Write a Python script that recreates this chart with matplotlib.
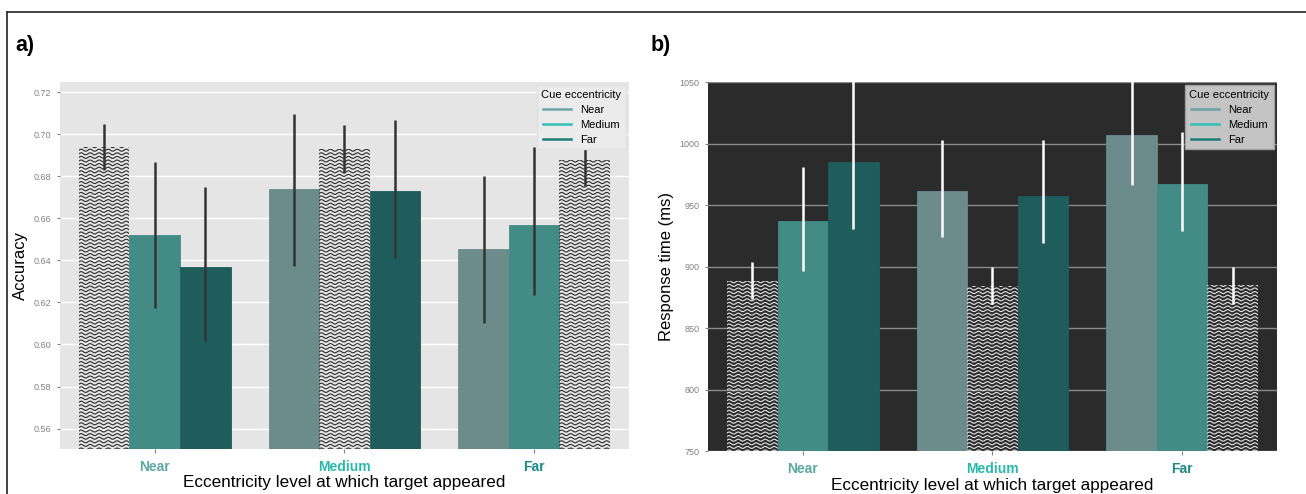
import numpy as np
import matplotlib
matplotlib.use("Agg")
import matplotlib.pyplot as plt
from matplotlib.lines import Line2D

plt.rcParams['font.family'] = ['Liberation Sans', 'DejaVu Sans']

# target eccentricity groups and cue eccentricity series
targets = ["Near", "Medium", "Far"]
cues = ["Near", "Medium", "Far"]

# accuracy (rows: target, cols: cue)
acc = [[0.6935, 0.6519, 0.6370],
       [0.6739, 0.6926, 0.6729],
       [0.6452, 0.6568, 0.6873]]
acc_lo = [[0.6829, 0.6175, 0.6017],
          [0.6375, 0.6817, 0.6412],
          [0.6104, 0.6234, 0.6755]]
acc_hi = [[0.7050, 0.6869, 0.6750],
          [0.7094, 0.7043, 0.7067],
          [0.6802, 0.6939, 0.6964]]

# response time in ms
rt = [[887.9, 937.2, 984.6],
      [961.1, 883.8, 957.0],
      [1007.2, 967.3, 884.4]]
rt_lo = [[873.6, 896.0, 930.5],
         [923.8, 869.8, 919.3],
         [966.5, 928.5, 869.5]]
rt_hi = [[903.7, 980.6, 1060.0],
         [1002.8, 899.3, 1002.8],
         [1060.0, 1009.6, 899.3]]

bar_colors = ["#6b8c8a", "#428c85", "#1f5d5d"]
legend_colors = ["#6aa5a5", "#30c0b5", "#1a7d7a"]
tick_colors = ["#5fa8a3", "#2ab7ac", "#1d8a85"]


def wavy_fill(ax, bar, color, ax_box):
    # draw wavy horizontal lines clipped to a bar
    x0, x1 = ax.get_xlim()
    y0, y1 = ax.get_ylim()
    dxp = (x1 - x0) / ax_box[0]
    dyp = (y1 - y0) / ax_box[1]
    bx = bar.get_x()
    bw = bar.get_width()
    bh = bar.get_y() + bar.get_height()
    xs = np.linspace(bx, bx + bw, 300)
    spacing = 3.6 * dyp
    amp = 1.0 * dyp
    wl = 9.0 * dxp
    y = y0
    while y < bh + spacing:
        ys = y + amp * np.sin(2 * np.pi * (xs - bx) / wl)
        ln, = ax.plot(xs, ys, color=color, lw=0.85, zorder=2)
        ln.set_clip_path(bar)
        y += spacing


def panel(ax, vals, lo, hi, dark, ylim, yticks, ylabel, ax_box):
    w = 0.8 / 3
    ax.set_xlim(-0.5, 2.5)
    ax.set_ylim(*ylim)
    for i in range(3):
        for j in range(3):
            x = i - w + j * w
            v = vals[i][j]
            if i == j:
                b = ax.bar(x, v - ylim[0] + 0.4 * (ylim[1] - ylim[0]) / ax_box[1],
                           bottom=ylim[0], width=w, color="none",
                           edgecolor="none", zorder=2)[0]
                wavy_fill(ax, b, "#dddddd" if dark else "#333333", ax_box)
            else:
                ax.bar(x, v - ylim[0], bottom=ylim[0], width=w, color=bar_colors[j],
                       edgecolor=bar_colors[j], lw=0.6, zorder=2)
            ax.plot([x, x], [lo[i][j], hi[i][j]], color="white" if dark else "#333333",
                    lw=1.8, zorder=3, solid_capstyle="butt")
    ax.set_facecolor("#2b2b2b" if dark else "#e5e5e5")
    ax.set_yticks(yticks)
    ax.grid(axis="y", color="#8a8a8a" if dark else "white", lw=1.0, zorder=0)
    ax.set_axisbelow(True)
    for s in ax.spines.values():
        s.set_visible(False)
    ax.set_xticks(range(3))
    ax.set_xticklabels(targets, fontweight="bold", fontsize=10)
    for t, c in zip(ax.get_xticklabels(), tick_colors):
        t.set_color(c)
    ax.tick_params(axis="y", labelsize=6.5, labelcolor="#808080", color="#808080", length=2.5)
    ax.tick_params(axis="x", color="#808080", length=3, pad=5)
    ax.set_xlabel("Eccentricity level at which target appeared", fontsize=12.3, labelpad=1)
    ax.set_ylabel(ylabel, fontsize=12, labelpad=4)
    handles = [Line2D([0], [0], color=c, lw=1.8) for c in legend_colors]
    leg = ax.legend(handles, cues, title="Cue eccentricity", loc="upper right",
                    fontsize=8, title_fontsize=8, frameon=True, handlelength=2.5,
                    borderaxespad=0.3, labelspacing=0.45, fancybox=False)
    leg.get_frame().set_facecolor("#c4c4c4" if dark else "#ebebeb")
    leg.get_frame().set_edgecolor("#a0a0a0" if dark else "#e0e0e0")
    leg.get_frame().set_alpha(1)
    leg.set_zorder(5)


fig = plt.figure(figsize=(13.06, 4.94), dpi=100)
ax1 = fig.add_axes([0.0459, 0.0911, 0.4357, 0.7429])
ax2 = fig.add_axes([0.5421, 0.0870, 0.4357, 0.7470])

panel(ax1, acc, acc_lo, acc_hi, False, (0.5503, 0.7248),
      np.arange(0.56, 0.7201, 0.02), "Accuracy", (569, 367))
ax1.set_yticklabels(["%.2f" % t for t in np.arange(0.56, 0.7201, 0.02)])
panel(ax2, rt, rt_lo, rt_hi, True, (750, 1050),
      [750, 800, 850, 900, 950, 1000, 1050], "Response time (ms)", (569, 369))

fig.text(15 / 1306, 1 - 45 / 494, "a)", fontsize=15.5, fontweight="bold", va="center")
fig.text(651 / 1306, 1 - 45 / 494, "b)", fontsize=15.5, fontweight="bold", va="center")

# outer frame
top = 1 - 12.5 / 494
fig.add_artist(Line2D([7 / 1306, 1], [top, top], color="#333333", lw=1.3))
fig.add_artist(Line2D([7 / 1306, 7 / 1306], [0, top], color="#333333", lw=1.3))

fig.savefig("out.png", dpi=100)
